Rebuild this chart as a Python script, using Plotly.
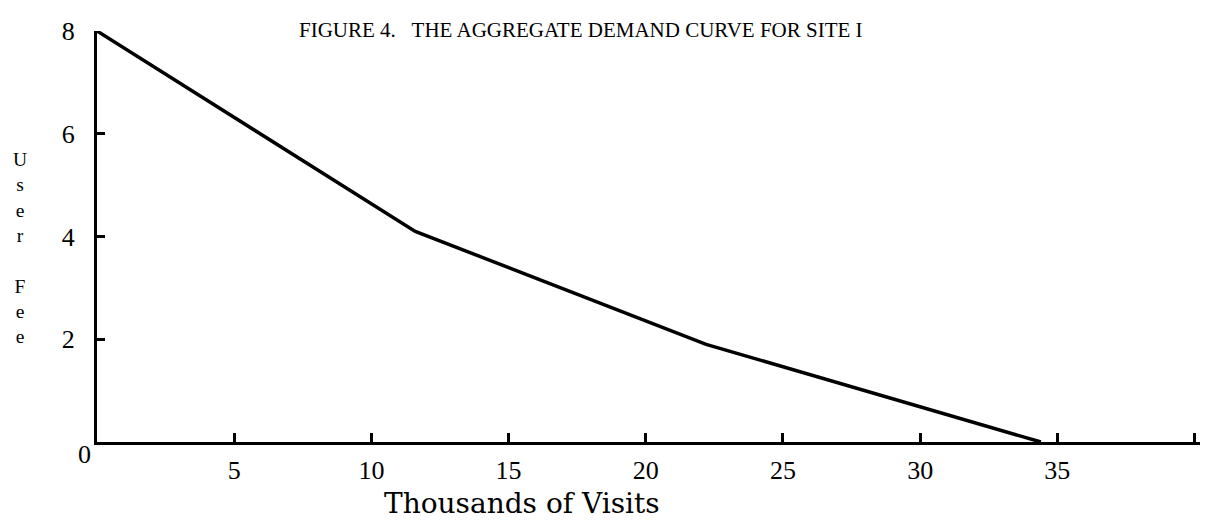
import plotly.graph_objects as go

# demand curve (thousands of visits, user fee)
visits = [0, 11.6, 22.2, 34.4]
user_fee = [8, 4.1, 1.9, 0]

x_tick_vals = [5, 10, 15, 20, 25, 30, 35, 40]
x_tick_text = ["5", "10", "15", "20", "25", "30", "35", ""]
y_tick_vals = [2, 4, 6, 8]
y_tick_text = ["2", "4", "6", "8"]

title_text = "FIGURE 4.&nbsp;&nbsp;&nbsp;THE AGGREGATE DEMAND CURVE FOR SITE I"
x_title = "Thousands of Visits"
# typed one letter per line, a blank line for the space
y_title = "U<br>s<br>e<br>r<br><br>F<br>e<br>e"

serif = "Liberation Serif, DejaVu Serif, serif"

fig = go.Figure()

fig.add_trace(
    go.Scatter(
        x=visits,
        y=user_fee,
        mode='lines',
        line=dict(color='black', width=3.5),
        cliponaxis=False,
        hoverinfo='skip'
    )
)

# page body has an 8px margin, so the figure is sized to fit inside it
fig.update_layout(
    width=1201,
    height=523,
    plot_bgcolor='white',
    paper_bgcolor='white',
    showlegend=False,
    margin=dict(l=89, r=9, t=14, b=89),
    font=dict(family=serif, size=26, color='black'),
    xaxis=dict(
        range=[0, 40.2],
        showline=True,
        linecolor='black',
        linewidth=3,
        showgrid=False,
        zeroline=False,
        ticks='inside',
        ticklen=9,
        tickwidth=2.5,
        tickcolor='black',
        tickvals=x_tick_vals,
        ticktext=x_tick_text,
        ticklabelstandoff=3,
        tickfont=dict(family=serif, size=26)
    ),
    yaxis=dict(
        range=[0, 8],
        showline=True,
        linecolor='black',
        linewidth=3,
        showgrid=False,
        zeroline=False,
        ticks='inside',
        ticklen=8,
        tickwidth=2.5,
        tickcolor='black',
        tickvals=y_tick_vals,
        ticktext=y_tick_text,
        ticklabelstandoff=14,
        tickfont=dict(family=serif, size=26)
    )
)

# figure title, typed caps
fig.add_annotation(
    text=title_text, xref='paper', yref='paper', x=0.181, y=1.002,
    xanchor='left', yanchor='middle', showarrow=False,
    font=dict(family=serif, size=21)
)

# axis titles
fig.add_annotation(
    text=x_title, xref='paper', yref='paper', x=0.385, y=-0.15,
    xanchor='center', yanchor='middle', showarrow=False,
    font=dict(family="DejaVu Serif, serif", size=28)
)
fig.add_annotation(
    text=y_title, xref='paper', yref='paper', x=-0.070, y=0.472,
    xanchor='center', yanchor='middle', showarrow=False,
    font=dict(family=serif, size=19.5)
)

# shared origin label
fig.add_annotation(
    text="0", xref='paper', yref='paper', x=-0.011, y=-0.031,
    xanchor='center', yanchor='middle', showarrow=False,
    font=dict(family=serif, size=26)
)

fig.write_html("out.html")
